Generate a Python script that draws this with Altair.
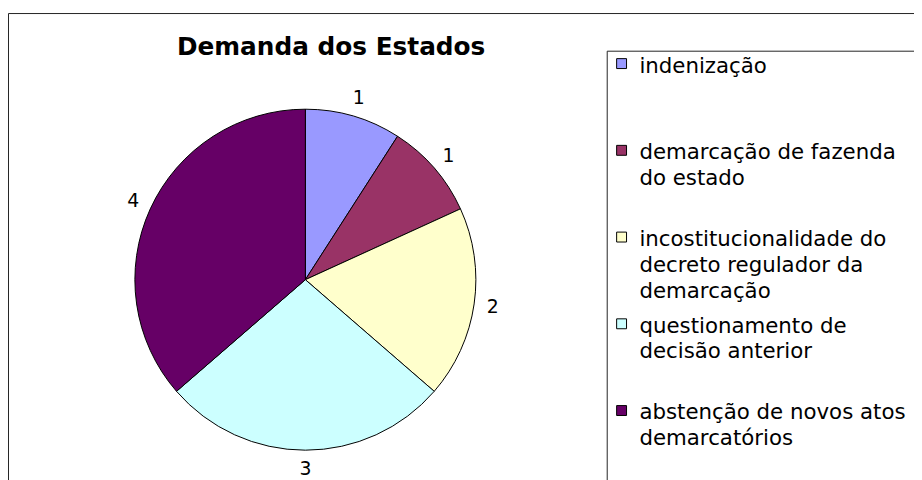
import altair as alt
import pandas as pd

# ---- data ----
categories = [
    "indenização",
    "demarcação de fazenda\ndo estado",
    "incostitucionalidade do\ndecreto regulador da\ndemarcação",
    "questionamento de\ndecisão anterior",
    "abstenção de novos atos\ndemarcatórios",
]
values = [1, 1, 2, 3, 4]
slice_order = [0, 1, 2, 3, 4]
colors = ["#9999FF", "#993366", "#FFFFCC", "#CCFFFF", "#660066"]
title_text = "Demanda dos Estados"

df = pd.DataFrame({"cat": categories, "value": values, "idx": slice_order})

CX, CY = 300, 272          # pie centre (plot coords)
R = 172                    # pie radius
RL = 191                   # label radius

color_scale = alt.Scale(domain=categories, range=colors)
legend_y = alt.Scale(type="point", domain=categories, range=[54, 404], padding=0)

base = alt.Chart(df)

pie = base.mark_arc(outerRadius=R, stroke="black", strokeWidth=1).encode(
    theta=alt.Theta("value:Q", stack=True),
    color=alt.Color("cat:N", scale=color_scale, legend=None),
    order=alt.Order("idx:Q", sort="ascending"),
    x=alt.value(CX),
    y=alt.value(CY),
)

labels = base.mark_text(radius=RL, font="DejaVu Sans", fontSize=19, color="black").encode(
    theta=alt.Theta("value:Q", stack=True),
    detail="cat:N",
    order=alt.Order("idx:Q", sort="ascending"),
    text="value:Q",
    x=alt.value(CX),
    y=alt.value(CY),
)

legend_sym = base.mark_square(size=100, stroke="black", strokeWidth=1, opacity=1).encode(
    x=alt.value(619),
    y=alt.Y("cat:N", scale=legend_y, axis=None),
    color=alt.Color("cat:N", scale=color_scale, legend=None),
)

legend_txt = base.mark_text(
    align="left", baseline="top", dy=-8, lineBreak="\n", lineHeight=26,
    font="DejaVu Sans", fontSize=21.5, color="black",
).encode(
    x=alt.value(637),
    y=alt.Y("cat:N", scale=legend_y, axis=None),
    text="cat:N",
)

title = alt.Chart(alt.Data(values=[{"t": title_text}])).mark_text(
    font="DejaVu Sans", fontSize=25, fontWeight="bold", align="center",
    baseline="alphabetic", color="black",
).encode(x=alt.value(326), y=alt.value(45), text="t:N")

frame = alt.Chart(alt.Data(values=[{"k": 1}])).mark_rect(
    fillOpacity=0, stroke="#222222", strokeWidth=1
).encode(x=alt.value(0.5), y=alt.value(3.5), x2=alt.value(2000), y2=alt.value(2000))

legend_box = alt.Chart(alt.Data(values=[{"k": 1}])).mark_rect(
    fillOpacity=0, stroke="#222222", strokeWidth=1
).encode(x=alt.value(604.5), y=alt.value(41.5), x2=alt.value(2000), y2=alt.value(2000))

chart = alt.layer(frame, legend_box, pie, labels, legend_sym, legend_txt, title).properties(
    width=914, height=472,
    autosize=alt.AutoSizeParams(type="none"),
    padding=0,
).configure_view(stroke=None)

chart.save("out.html", embed_options={"renderer": "svg", "actions": False})
